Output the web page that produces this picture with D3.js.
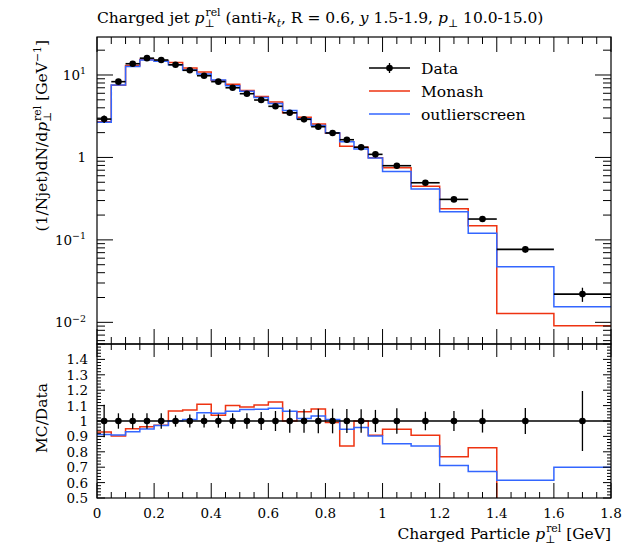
<!DOCTYPE html>
<html>
<head>
<meta charset="utf-8">
<script src="https://cdn.jsdelivr.net/npm/d3@7"></script>
<style>
  body { margin: 0; background: #fff; }
  text { font-family: "DejaVu Serif", serif; fill: #000; }
</style>
</head>
<body>
<script>
// bin edges of the histogram (GeV)
const binEdges = [0, 0.05, 0.1, 0.15, 0.2, 0.25, 0.3, 0.35, 0.4, 0.45, 0.5, 0.55, 0.6, 0.65, 0.7, 0.75, 0.8, 0.85, 0.9, 0.95, 1.0, 1.1, 1.2, 1.3, 1.4, 1.6, 1.8];

// measured data
const dataVals = [2.92, 8.3, 13.7, 16.0, 15.2, 13.3, 11.4, 9.8, 8.3, 7.0, 5.93, 4.97, 4.17, 3.48, 2.90, 2.36, 1.98, 1.64, 1.33, 1.09, 0.794, 0.493, 0.310, 0.179, 0.0767, 0.022];
// relative uncertainty of data (half height of the ratio error bar)
const dataRelErr = [0.105, 0.05, 0.05, 0.05, 0.05, 0.037, 0.043, 0.043, 0.043, 0.05, 0.05, 0.058, 0.065, 0.076, 0.076, 0.08, 0.08, 0.078, 0.076, 0.072, 0.082, 0.06, 0.065, 0.075, 0.085, 0.195];

// MC predictions
const monashVals = [2.71, 7.49, 13.0, 15.4, 14.8, 14.2, 12.2, 10.9, 8.6, 7.7, 6.47, 5.49, 4.69, 3.48, 3.07, 2.54, 1.96, 1.37, 1.33, 0.989, 0.751, 0.447, 0.238, 0.148, 0.0128, 0.0091];
const outlierVals = [2.67, 7.54, 12.7, 15.2, 14.7, 13.3, 11.5, 10.3, 8.7, 7.4, 6.37, 5.35, 4.51, 3.70, 2.95, 2.44, 2.00, 1.55, 1.27, 0.983, 0.676, 0.413, 0.220, 0.120, 0.0472, 0.0155];

// MC / Data
const monashRatio = [0.928, 0.902, 0.95, 0.963, 0.972, 1.065, 1.072, 1.108, 1.037, 1.10, 1.091, 1.104, 1.124, 1.0, 1.06, 1.078, 0.99, 0.837, 1.0, 0.907, 0.946, 0.907, 0.768, 0.826, 0.165, 0.41];
const outlierRatio = [0.913, 0.909, 0.93, 0.948, 0.97, 1.0, 1.01, 1.054, 1.05, 1.063, 1.074, 1.076, 1.082, 1.063, 1.017, 1.033, 1.009, 0.946, 0.957, 0.902, 0.852, 0.837, 0.711, 0.672, 0.616, 0.70];

const xTicks = [0, 0.2, 0.4, 0.6, 0.8, 1, 1.2, 1.4, 1.6, 1.8];
const ratioTicks = [0.5, 0.6, 0.7, 0.8, 0.9, 1, 1.1, 1.2, 1.3, 1.4];
const legendNames = ["Data", "Monash", "outlierscreen"];

const red = "#ee3311", blue = "#3366ff";
const w = 630, h = 547;

const svg = d3.select("body").append("svg")
  .attr("width", w).attr("height", h);

const x = d3.scaleLinear().domain([0, 1.8]).range([97, 611]);
const y = d3.scaleLog().domain([0.00546, 28.9]).range([344, 37]);
const yr = d3.scaleLinear().domain([0.5, 1.5]).range([498, 344]);

//clip paths
const defs = svg.append("defs");
defs.append("clipPath").attr("id", "clipMain").append("rect")
  .attr("x", 97).attr("y", 37).attr("width", 514).attr("height", 307);
defs.append("clipPath").attr("id", "clipRatio").append("rect")
  .attr("x", 97).attr("y", 344).attr("width", 514).attr("height", 154);

// rich text helper: plain, italic, sub, sup, and stacked sub+sup
function rich(t, segs, fs) {
  let cur = 0;
  segs.forEach(s => {
    if (s.ss) {
      const off1 = fs * 0.26, off2 = -fs * 0.42;
      const a = t.append("tspan").attr("dy", off1 - cur).attr("font-size", fs * 0.7).text(s.ss[0]);
      const wa = a.node().getComputedTextLength();
      t.append("tspan").attr("dx", -wa + 1).attr("dy", off2 - off1).attr("font-size", fs * 0.7).text(s.ss[1]);
      cur = off2;
    } else {
      const off = s.sub ? fs * 0.26 : (s.sup ? -fs * 0.42 : 0);
      const sp = t.append("tspan").attr("dy", off - cur)
        .attr("font-size", (s.sub || s.sup) ? fs * 0.7 : fs)
        .text(s.t);
      if (s.it) sp.attr("font-style", "italic");
      cur = off;
    }
  });
  if (cur !== 0) t.append("tspan").attr("dy", -cur).text("");
}

// step path points
function steps(vals) {
  const pts = [];
  vals.forEach((v, i) => { pts.push([binEdges[i], v]); pts.push([binEdges[i + 1], v]); });
  return pts;
}
const mainLine = d3.line().x(d => x(d[0])).y(d => y(d[1]));
const ratioLine = d3.line().x(d => x(d[0])).y(d => yr(d[1]));
const mid = i => (binEdges[i] + binEdges[i + 1]) / 2;

// ---------- main panel ----------
const main = svg.append("g").attr("clip-path", "url(#clipMain)");
main.append("path").attr("d", mainLine(steps(monashVals)))
  .attr("fill", "none").attr("stroke", red).attr("stroke-width", 1.5);
main.append("path").attr("d", mainLine(steps(outlierVals)))
  .attr("fill", "none").attr("stroke", blue).attr("stroke-width", 1.5);

const pts = main.selectAll(".pt").data(dataVals).enter().append("g").attr("class", "pt");
pts.append("line")
  .attr("x1", (d, i) => x(binEdges[i])).attr("x2", (d, i) => x(binEdges[i + 1]))
  .attr("y1", d => y(d)).attr("y2", d => y(d))
  .attr("stroke", "#000").attr("stroke-width", 1.6);
pts.append("line")
  .attr("x1", (d, i) => x(mid(i))).attr("x2", (d, i) => x(mid(i)))
  .attr("y1", (d, i) => y(d * (1 - dataRelErr[i]))).attr("y2", (d, i) => y(d * (1 + dataRelErr[i])))
  .attr("stroke", "#000").attr("stroke-width", 1.3);
pts.append("circle")
  .attr("cx", (d, i) => x(mid(i))).attr("cy", d => y(d))
  .attr("r", 3.3).attr("fill", "#000");

// ---------- ratio panel ----------
const rat = svg.append("g").attr("clip-path", "url(#clipRatio)");
rat.append("path").attr("d", ratioLine(steps(monashRatio)))
  .attr("fill", "none").attr("stroke", red).attr("stroke-width", 1.5);
rat.append("path").attr("d", ratioLine(steps(outlierRatio)))
  .attr("fill", "none").attr("stroke", blue).attr("stroke-width", 1.5);
rat.append("line").attr("x1", x(0)).attr("x2", x(1.8)).attr("y1", yr(1)).attr("y2", yr(1))
  .attr("stroke", "#000").attr("stroke-width", 1.6);
const rp = rat.selectAll(".rp").data(dataRelErr).enter().append("g").attr("class", "rp");
rp.append("line")
  .attr("x1", (d, i) => x(mid(i))).attr("x2", (d, i) => x(mid(i)))
  .attr("y1", d => yr(1 - d)).attr("y2", d => yr(1 + d))
  .attr("stroke", "#000").attr("stroke-width", 1.3);
rp.append("circle")
  .attr("cx", (d, i) => x(mid(i))).attr("cy", yr(1))
  .attr("r", 3.3).attr("fill", "#000");

// ---------- frames and ticks ----------
const ax = svg.append("g").attr("stroke", "#000").attr("stroke-width", 1);
function tick(x1, y1, x2, y2) { ax.append("line").attr("x1", x1).attr("y1", y1).attr("x2", x2).attr("y2", y2); }

// x ticks on all four horizontal edges
d3.range(0, 37).forEach(k => {
  const px = x(k * 0.05);
  const major = k % 4 === 0;
  const L = major ? 15 : 7;
  tick(px, 37, px, 37 + L);
  tick(px, 344, px, 344 - L);
  tick(px, 344, px, 344 + (major ? 13 : 6));
  tick(px, 498, px, 498 - (major ? 15 : 6));
});

// log y ticks
[-3, -2, -1, 0, 1].forEach(e => {
  d3.range(1, 10).forEach(m => {
    const v = m * Math.pow(10, e);
    if (v < y.domain()[0] || v > y.domain()[1]) return;
    const L = m === 1 ? 16 : 8;
    tick(97, y(v), 97 + L, y(v));
    tick(611, y(v), 611 - L, y(v));
  });
});

// ratio y ticks
d3.range(0, 51).forEach(k => {
  const py = yr(0.5 + k * 0.02);
  const L = k % 5 === 0 ? 8 : 4;
  tick(97, py, 97 + L, py);
  tick(611, py, 611 - L, py);
});

svg.append("rect").attr("x", 97).attr("y", 37).attr("width", 514).attr("height", 307)
  .attr("fill", "none").attr("stroke", "#000").attr("stroke-width", 1.2);
svg.append("rect").attr("x", 97).attr("y", 344).attr("width", 514).attr("height", 154)
  .attr("fill", "none").attr("stroke", "#000").attr("stroke-width", 1.2);

// ---------- tick labels ----------
const fsTick = 13.5;
[1, 0, -1, -2].forEach(e => {
  const t = svg.append("text").attr("x", 86).attr("y", y(Math.pow(10, e)) + 5)
    .attr("text-anchor", "end").attr("font-size", fsTick);
  if (e === 0) rich(t, [{ t: "1" }], fsTick);
  else rich(t, [{ t: "10" }, { t: e === 1 ? "1" : "\u2212" + (-e), sup: true }], fsTick);
});

ratioTicks.forEach(v => {
  svg.append("text").attr("x", 88).attr("y", yr(v) + 5)
    .attr("text-anchor", "end").attr("font-size", fsTick)
    .text(d3.format("~g")(v));
});

xTicks.forEach(v => {
  svg.append("text").attr("x", x(v)).attr("y", 518)
    .attr("text-anchor", "middle").attr("font-size", fsTick)
    .text(d3.format("~g")(v));
});

// ---------- titles ----------
const fsLab = 15.5;
const title = svg.append("text").attr("x", 97).attr("y", 23).attr("font-size", fsLab);
rich(title, [
  { t: "Charged jet " }, { t: "p", it: true }, { ss: ["\u22a5", "rel"] },
  { t: " (anti-" }, { t: "k", it: true }, { t: "t", it: true, sub: true },
  { t: ", R = 0.6, " }, { t: "y", it: true }, { t: " 1.5-1.9, " },
  { t: "p", it: true }, { t: "\u22a5", sub: true }, { t: " 10.0-15.0)" }
], fsLab);

const xl = svg.append("text").attr("x", 611).attr("y", 539).attr("text-anchor", "end").attr("font-size", fsLab);
rich(xl, [{ t: "Charged Particle " }, { t: "p", it: true }, { ss: ["\u22a5", "rel"] }, { t: " [GeV]" }], fsLab);

const yl = svg.append("text").attr("transform", "translate(47,40) rotate(-90)")
  .attr("text-anchor", "end").attr("font-size", fsLab);
rich(yl, [{ t: "(1/Njet)dN/d" }, { t: "p", it: true }, { ss: ["\u22a5", "rel"] },
  { t: " [GeV" }, { t: "\u22121", sup: true }, { t: "]" }], fsLab);

svg.append("text").attr("transform", "translate(47,383) rotate(-90)")
  .attr("text-anchor", "end").attr("font-size", fsLab).text("MC/Data");

// ---------- legend ----------
const legColors = ["#000", red, blue];
const leg = svg.selectAll(".leg").data(legendNames).enter().append("g")
  .attr("transform", (d, i) => "translate(0," + (68 + i * 23) + ")");
leg.append("line").attr("x1", 369).attr("x2", 410).attr("y1", 0).attr("y2", 0)
  .attr("stroke", (d, i) => legColors[i]).attr("stroke-width", (d, i) => i === 0 ? 1.6 : 1.5);
leg.filter((d, i) => i === 0).append("circle").attr("cx", 389.5).attr("cy", 0).attr("r", 3.3).attr("fill", "#000");
leg.filter((d, i) => i === 0).append("line").attr("x1", 389.5).attr("x2", 389.5).attr("y1", -5).attr("y2", 5)
  .attr("stroke", "#000").attr("stroke-width", 1.3);
leg.append("text").attr("x", 421).attr("y", 6).attr("font-size", fsLab).text(d => d);
</script>
</body>
</html>
